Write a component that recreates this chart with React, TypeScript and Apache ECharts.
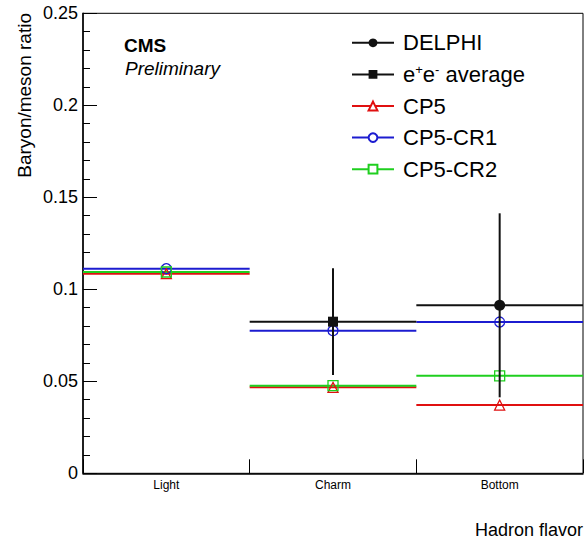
import React, { useEffect, useRef } from 'react';
import * as echarts from 'echarts';

const categories = ['Light', 'Charm', 'Bottom'];
const yTickValues = [0, 0.05, 0.1, 0.15, 0.2, 0.25];
const delphi = [null, null, 0.0913];
const delphiErr = [null, null, 0.05];
const eeAverage = [null, 0.0824, null];
const eeAverageErr = [null, 0.029, null];
const cp5 = [0.1085, 0.0467, 0.0371];
const cp5cr1 = [0.1112, 0.0775, 0.0822];
const cp5cr2 = [0.1094, 0.0476, 0.053];

const FONT = 'Liberation Sans, Arial, Helvetica, sans-serif';
const RED = '#e01010';
const BLUE = '#1c1cd0';
const GREEN = '#1fcf1f';
const BLACK = '#111111';

const toPoints = (vals: (number | null)[]) =>
  vals.map((v, i) => (v == null ? null : [i, v])).filter((d) => d !== null);

const toErrPoints = (vals: (number | null)[], errs: (number | null)[]) =>
  vals
    .map((v, i) => (v == null ? null : [i, v, v - (errs[i] as number), v + (errs[i] as number)]))
    .filter((d) => d !== null);

function segSeries(name: string, vals: (number | null)[], color: string, width: number, z: number) {
  return {
    type: 'custom',
    name,
    z,
    data: toPoints(vals),
    encode: { x: 0, y: 1 },
    renderItem: (params: any, api: any) => {
      const c = api.coord([api.value(0), api.value(1)]);
      const w = api.size([1, 0])[0];
      return {
        type: 'line',
        shape: { x1: c[0] - w / 2, y1: c[1], x2: c[0] + w / 2, y2: c[1] },
        style: { stroke: color, lineWidth: width },
      };
    },
  };
}

function errSeries(name: string, vals: (number | null)[], errs: (number | null)[], z: number) {
  return {
    type: 'custom',
    name,
    z,
    data: toErrPoints(vals, errs),
    encode: { x: 0, y: [1, 2, 3] },
    renderItem: (params: any, api: any) => {
      const x = api.value(0);
      const c = api.coord([x, api.value(1)]);
      const lo = api.coord([x, api.value(2)]);
      const hi = api.coord([x, api.value(3)]);
      const w = api.size([1, 0])[0];
      return {
        type: 'group',
        children: [
          {
            type: 'line',
            shape: { x1: lo[0], y1: lo[1], x2: hi[0], y2: hi[1] },
            style: { stroke: BLACK, lineWidth: 2 },
          },
          {
            type: 'line',
            shape: { x1: c[0] - w / 2, y1: c[1], x2: c[0] + w / 2, y2: c[1] },
            style: { stroke: BLACK, lineWidth: 2 },
          },
        ],
      };
    },
  };
}

function markerSeries(
  name: string,
  vals: (number | null)[],
  symbol: string,
  color: string,
  filled: boolean,
  size: number,
  z: number
) {
  return {
    type: 'scatter',
    name,
    z,
    data: toPoints(vals),
    symbol,
    symbolSize: size,
    itemStyle: {
      color: filled ? color : 'rgba(0,0,0,0)',
      borderColor: color,
      borderWidth: filled ? 0 : 1.3,
      opacity: 1,
    },
    emphasis: { disabled: true },
  };
}

function legendSeries(name: string, symbol: string, color: string, filled: boolean) {
  return {
    type: 'line',
    name,
    data: [],
    symbol,
    symbolSize: 9,
    lineStyle: { color, width: 1.5 },
    itemStyle: {
      color: filled ? color : '#ffffff',
      borderColor: color,
      borderWidth: filled ? 0 : 1.2,
    },
  };
}

export default function App() {
  const ref = useRef<HTMLDivElement>(null);

  useEffect(() => {
    if (!ref.current) return;
    const chart = echarts.init(ref.current, null, { renderer: 'svg' });
    const option: any = {
      animation: false,
      backgroundColor: '#ffffff',
      textStyle: { fontFamily: FONT },
      grid: {
        left: 83,
        right: 3,
        top: 13.3,
        bottom: 68.7,
        show: true,
        borderColor: '#000',
        borderWidth: 1,
        backgroundColor: 'transparent',
      },
      xAxis: {
        type: 'category',
        data: categories,
        boundaryGap: true,
        axisLine: { lineStyle: { color: '#000', width: 1.5 } },
        axisTick: { show: true, inside: true, length: 14, alignWithLabel: false, lineStyle: { color: '#000', width: 1 } },
        axisLabel: { fontSize: 12, color: '#000', margin: 6, fontFamily: FONT },
        splitLine: { show: false },
      },
      yAxis: {
        type: 'value',
        min: yTickValues[0],
        max: yTickValues[yTickValues.length - 1],
        interval: 0.05,
        axisLine: { show: true, lineStyle: { color: '#000', width: 1.5 } },
        axisTick: { show: true, inside: true, length: 14, lineStyle: { color: '#000', width: 1 } },
        minorTick: { show: true, splitNumber: 5, length: 7, lineStyle: { color: '#000', width: 1 } },
        axisLabel: { fontSize: 18, color: '#000', margin: 5, fontFamily: FONT },
        splitLine: { show: false },
      },
      legend: {
        orient: 'vertical',
        left: 346,
        top: 26.8,
        itemWidth: 42,
        itemHeight: 11,
        itemGap: 9.6,
        selectedMode: false,
        data: ['DELPHI', 'e+e- average', 'CP5', 'CP5-CR1', 'CP5-CR2'],
        formatter: (name: string) =>
          name === 'e+e- average' ? '{n|e}{s|+}{n|e}{s|-}{n| average}' : name,
        textStyle: {
          fontSize: 22,
          lineHeight: 22,
          color: '#000',
          fontFamily: FONT,
          padding: [0, 0, 0, 4],
          rich: {
            n: { fontSize: 22, lineHeight: 22, color: '#000', fontFamily: FONT },
            s: { fontSize: 13, lineHeight: 13, verticalAlign: 'top', color: '#000', fontFamily: FONT },
          },
        },
      },
      graphic: [
        {
          type: 'text',
          x: 24,
          y: 13,
          rotation: Math.PI / 2,
          style: {
            text: 'Baryon/meson ratio',
            fontSize: 19,
            fontFamily: FONT,
            fill: '#000',
            align: 'right',
            verticalAlign: 'middle',
          },
        },
        {
          type: 'text',
          x: 583,
          y: 530,
          style: {
            text: 'Hadron flavor',
            fontSize: 18,
            fontFamily: FONT,
            fill: '#000',
            align: 'right',
            verticalAlign: 'middle',
          },
        },
        {
          type: 'text',
          x: 124,
          y: 45,
          style: {
            text: 'CMS',
            fontSize: 19,
            fontWeight: 'bold',
            fontFamily: FONT,
            fill: '#000',
            align: 'left',
            verticalAlign: 'middle',
          },
        },
        {
          type: 'text',
          x: 125,
          y: 68,
          style: {
            text: 'Preliminary',
            fontSize: 19,
            fontStyle: 'italic',
            fontFamily: FONT,
            fill: '#000',
            align: 'left',
            verticalAlign: 'middle',
          },
        },
      ],
      series: [
        legendSeries('DELPHI', 'circle', BLACK, true),
        legendSeries('e+e- average', 'rect', BLACK, true),
        legendSeries('CP5', 'triangle', RED, false),
        legendSeries('CP5-CR1', 'circle', BLUE, false),
        legendSeries('CP5-CR2', 'rect', GREEN, false),
        segSeries('cp5-line', cp5, RED, 2, 2),
        segSeries('cr1-line', cp5cr1, BLUE, 2, 2),
        segSeries('cr2-line', cp5cr2, GREEN, 2, 2),
        markerSeries('cp5-mark', cp5, 'triangle', RED, false, 10, 3),
        markerSeries('cr1-mark', cp5cr1, 'circle', BLUE, false, 10, 3),
        markerSeries('cr2-mark', cp5cr2, 'rect', GREEN, false, 10, 3),
        errSeries('ee-err', eeAverage, eeAverageErr, 4),
        errSeries('delphi-err', delphi, delphiErr, 4),
        markerSeries('ee-mark', eeAverage, 'rect', BLACK, true, 10, 5),
        markerSeries('delphi-mark', delphi, 'circle', BLACK, true, 11, 5),
      ],
    };
    chart.setOption(option);
    return () => chart.dispose();
  }, []);

  return (
    <div
      ref={ref}
      style={{ position: 'fixed', left: 0, top: 0, width: 586, height: 542, background: '#fff' }}
    />
  );
}
